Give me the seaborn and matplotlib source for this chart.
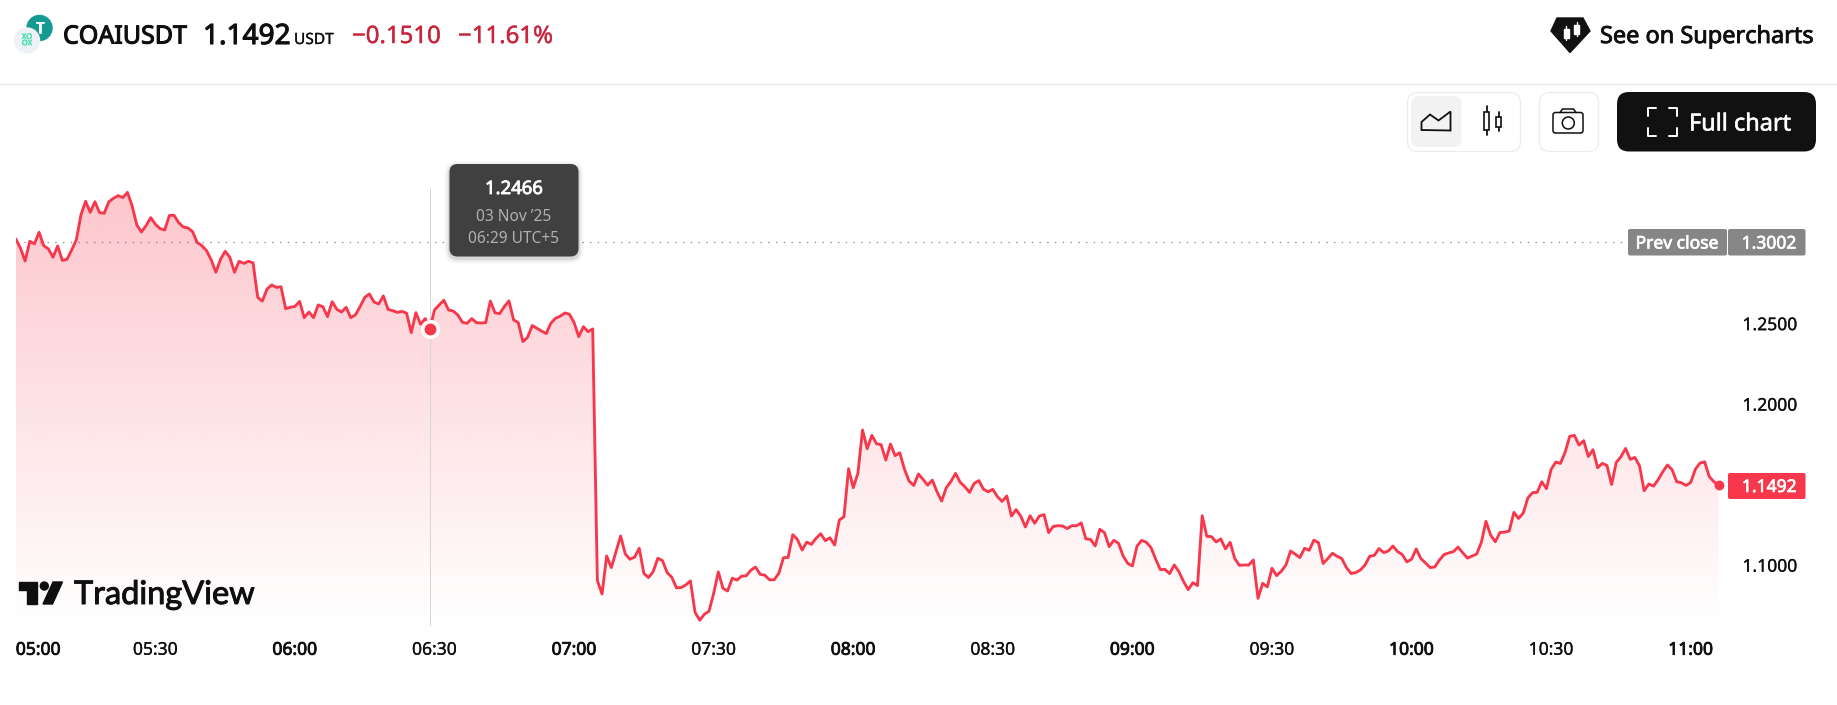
"""COAIUSDT intraday area chart, TradingView widget look."""

from __future__ import annotations

import numpy as np
import matplotlib

matplotlib.use("Agg")

import matplotlib.patheffects as pe
import matplotlib.pyplot as plt
import seaborn as sns
from matplotlib.colors import to_rgb
from matplotlib.patches import Circle, FancyBboxPatch, Polygon, Rectangle

PRICES = [
    1.3023, 1.2965, 1.2886, 1.3008, 1.2992, 1.3064, 1.2981, 1.2961, 1.2909, 1.2979,
    1.2890, 1.2896, 1.2954, 1.3016, 1.3172, 1.3257, 1.3188, 1.3254, 1.3186, 1.3182,
    1.3254, 1.3275, 1.3292, 1.3279, 1.3312, 1.3228, 1.3110, 1.3066, 1.3105, 1.3155,
    1.3114, 1.3087, 1.3078, 1.3168, 1.3170, 1.3124, 1.3097, 1.3091, 1.3068, 1.3000,
    1.2981, 1.2950, 1.2892, 1.2816, 1.2896, 1.2946, 1.2909, 1.2816, 1.2884, 1.2871,
    1.2884, 1.2874, 1.2660, 1.2637, 1.2712, 1.2737, 1.2722, 1.2726, 1.2590, 1.2598,
    1.2604, 1.2635, 1.2534, 1.2569, 1.2534, 1.2613, 1.2602, 1.2540, 1.2633, 1.2586,
    1.2569, 1.2598, 1.2534, 1.2551, 1.2602, 1.2660, 1.2681, 1.2631, 1.2619, 1.2669,
    1.2586, 1.2577, 1.2567, 1.2573, 1.2561, 1.2441, 1.2565, 1.2493, 1.2528, 1.2466,
    1.2582, 1.2613, 1.2642, 1.2582, 1.2575, 1.2551, 1.2505, 1.2499, 1.2528, 1.2503,
    1.2501, 1.2503, 1.2637, 1.2564, 1.2559, 1.2603, 1.2638, 1.2520, 1.2503, 1.2385,
    1.2412, 1.2485, 1.2468, 1.2451, 1.2435, 1.2499, 1.2530, 1.2543, 1.2563, 1.2555,
    1.2503, 1.2416, 1.2478, 1.2447, 1.2464, 1.0901, 1.0818, 1.1054, 1.0982, 1.1081,
    1.1178, 1.1067, 1.1034, 1.1046, 1.1102, 1.0945, 1.0920, 1.0957, 1.1040, 1.1025,
    1.0951, 1.0922, 1.0856, 1.0858, 1.0874, 1.0899, 1.0704, 1.0655, 1.0692, 1.0711,
    1.0822, 1.0955, 1.0853, 1.0837, 1.0916, 1.0904, 1.0929, 1.0931, 1.0966, 1.0985,
    1.0940, 1.0935, 1.0906, 1.0906, 1.0946, 1.1043, 1.1045, 1.1186, 1.1157, 1.1091,
    1.1140, 1.1126, 1.1163, 1.1192, 1.1149, 1.1167, 1.1122, 1.1277, 1.1298, 1.1596,
    1.1478, 1.1567, 1.1836, 1.1720, 1.1803, 1.1751, 1.1745, 1.1650, 1.1749, 1.1677,
    1.1695, 1.1594, 1.1519, 1.1492, 1.1563, 1.1530, 1.1494, 1.1525, 1.1453, 1.1395,
    1.1478, 1.1517, 1.1567, 1.1511, 1.1484, 1.1449, 1.1505, 1.1522, 1.1468, 1.1453,
    1.1468, 1.1422, 1.1393, 1.1427, 1.1302, 1.1342, 1.1302, 1.1234, 1.1304, 1.1257,
    1.1302, 1.1311, 1.1199, 1.1238, 1.1242, 1.1240, 1.1224, 1.1242, 1.1242, 1.1259,
    1.1160, 1.1157, 1.1116, 1.1220, 1.1199, 1.1112, 1.1151, 1.1133, 1.1054, 1.1008,
    1.0992, 1.1116, 1.1151, 1.1139, 1.1106, 1.1035, 1.0969, 1.0971, 1.0944, 1.0998,
    1.0957, 1.0895, 1.0845, 1.0888, 1.0870, 1.1304, 1.1176, 1.1174, 1.1141, 1.1160,
    1.1098, 1.1139, 1.1038, 1.0996, 1.0998, 1.0998, 1.1029, 1.0791, 1.0884, 1.0862,
    1.0978, 1.0932, 1.0959, 1.0998, 1.1085, 1.1065, 1.1044, 1.1102, 1.1089, 1.1152,
    1.1137, 1.1007, 1.1038, 1.1071, 1.1052, 1.1038, 1.0982, 1.0945, 1.0951, 1.0967,
    1.0998, 1.1052, 1.1058, 1.1100, 1.1075, 1.1085, 1.1116, 1.1081, 1.1063, 1.1017,
    1.1034, 1.1098, 1.1038, 1.1011, 1.0982, 1.0986, 1.1029, 1.1063, 1.1073, 1.1081,
    1.1109, 1.1074, 1.1041, 1.1053, 1.1066, 1.1138, 1.1269, 1.1184, 1.1142, 1.1200,
    1.1202, 1.1209, 1.1325, 1.1287, 1.1320, 1.1414, 1.1447, 1.1449, 1.1515, 1.1472,
    1.1592, 1.1637, 1.1629, 1.1697, 1.1797, 1.1803, 1.1743, 1.1770, 1.1672, 1.1714,
    1.1602, 1.1629, 1.1616, 1.1498, 1.1635, 1.1670, 1.1722, 1.1654, 1.1666, 1.1614,
    1.1459, 1.1501, 1.1488, 1.1527, 1.1577, 1.1619, 1.1590, 1.1515, 1.1509, 1.1492,
    1.1511, 1.1592, 1.1631, 1.1639, 1.1546, 1.1515, 1.1492,
]

TIME_TICKS = [0, 30, 60, 90, 120, 150, 180, 210, 240, 270, 300, 330, 360]
TIME_LABELS = [
    "05:00", "05:30", "06:00", "06:30", "07:00", "07:30", "08:00",
    "08:30", "09:00", "09:30", "10:00", "10:30", "11:00",
]
PRICE_TICKS = [1.10, 1.20, 1.25]
PRICE_LABELS = ["1.1000", "1.2000", "1.2500"]

PREV_CLOSE = 1.3002
HOVER_MINUTE = 89
HOVER_PRICE = 1.2466
LAST_PRICE = 1.1492

WIDTH, HEIGHT = 1837, 705
RED = "#F7374B"
INK = "#0F0F0F"
FONT = "Noto Sans"


def px(size: float) -> float:
    return size * 0.72


def heavy(artist, color, width=0.6) -> None:
    # the installed regular face needs a thin stroke to reach the medium weight
    artist.set_path_effects([pe.withStroke(linewidth=width, foreground=color)])


def label(ui, x, y, text, color=INK, size=16.0, stroke=0.0, **kwargs):
    kwargs.setdefault("va", "center")
    kwargs.setdefault("zorder", 7)
    artist = ui.text(x, y, text, color=color, fontsize=px(size), **kwargs)
    if stroke:
        heavy(artist, color, stroke)
    return artist


def box(ui, x0, y0, x1, y1, radius, face, edge="none", lw=0.0, zorder=5):
    patch = FancyBboxPatch(
        (x0 + radius, y0 + radius),
        x1 - x0 - 2 * radius,
        y1 - y0 - 2 * radius,
        boxstyle=f"round,pad={radius},rounding_size={radius}",
        facecolor=face,
        edgecolor=edge,
        linewidth=lw,
        zorder=zorder,
    )
    ui.add_patch(patch)
    return patch


def draw_chart(ax) -> None:
    minutes = np.arange(len(PRICES))
    bottom, top = 1.0621, 1.3513

    ax.axhline(PREV_CLOSE, color="#8a8a8a", linewidth=0.9, linestyle=(0, (1.1, 5.1)), zorder=2)

    # gradient under the line, clipped to the area
    rgba = np.ones((256, 1, 4))
    rgba[:, :, :3] = to_rgb(RED)
    rgba[:, 0, 3] = np.linspace(0.29, 0.0, 256)
    area = ax.fill_between(minutes, PRICES, bottom, color="none", linewidth=0)
    image = ax.imshow(
        rgba,
        extent=[0, len(PRICES) - 1, bottom, 1.3389],
        aspect="auto",
        interpolation="bilinear",
        zorder=1,
    )
    image.set_clip_path(area.get_paths()[0], transform=ax.transData)

    ax.vlines(HOVER_MINUTE, bottom, 1.3339, color="#d6d6d6", linewidth=0.75, zorder=2)
    sns.lineplot(x=minutes, y=PRICES, ax=ax, color=RED, linewidth=2.05, zorder=3, legend=False)
    ax.lines[-1].set_solid_joinstyle("round")
    ax.scatter(
        [HOVER_MINUTE], [HOVER_PRICE], s=125, color=RED, edgecolor="white",
        linewidth=2.6, zorder=4, clip_on=False,
    )
    ax.scatter([minutes[-1]], [LAST_PRICE], s=50, color=RED, linewidth=0, zorder=4, clip_on=False)

    ax.set_xlim(0, 366.3)
    ax.set_ylim(bottom, top)
    ax.set_xlabel("")
    ax.set_ylabel("")
    sns.despine(ax=ax, left=True, bottom=True, right=True, top=True)
    ax.patch.set_alpha(0)

    ax.set_xticks(TIME_TICKS, TIME_LABELS)
    ax.tick_params(axis="x", length=0, pad=10.8, labelsize=px(17.5), labelcolor=INK)
    for tick, tick_label in zip(TIME_TICKS, ax.get_xticklabels()):
        heavy(tick_label, INK, 0.6 if tick % 60 == 0 else 0.2)
    ax.get_xticklabels()[0].set_ha("left")

    ax.yaxis.tick_right()
    ax.set_yticks(PRICE_TICKS, PRICE_LABELS)
    ax.tick_params(axis="y", length=0, pad=px(22.5), labelsize=px(17.5), labelcolor=INK)
    for tick_label in ax.get_yticklabels():
        heavy(tick_label, INK, 0.2)


def draw_header(ui) -> None:
    ui.plot([0, WIDTH], [83.5, 83.5], color="#e9e9e9", linewidth=1.0, zorder=5)

    ui.add_patch(Circle((39.5, 28), 12.5, color="#159A92", zorder=5))
    label(ui, 40, 29, "T", "white", 15, 0.5, ha="center", zorder=6)
    ui.add_patch(Circle((27, 40.5), 12.5, color="#EEF1F6", zorder=7))
    label(ui, 27, 40.5, "XO\nOX", "#3FE0A8", 7.5, 0.3, ha="center", linespacing=0.85, zorder=8)

    label(ui, 63, 37, "COAIUSDT", INK, 25, 0.8)
    label(ui, 203, 37, "1.1492", INK, 28, 0.8)
    label(ui, 294, 40, "USDT", INK, 15.5, 0.2)
    label(ui, 352, 37, "\u22120.1510", "#C9263D", 24, 0.3)
    label(ui, 458, 37, "\u221211.61%", "#C9263D", 24, 0.3)

    ui.add_patch(Polygon([(1557, 18), (1583, 18), (1590, 31), (1570, 52.5), (1551, 31)], color="#111111", zorder=5))
    for x, y0, y1 in [(1566, 26, 40), (1576.5, 22, 36)]:
        ui.add_patch(Rectangle((x - 2.5, y0 + 2.5), 5, y1 - y0 - 5, color="white", zorder=6))
        ui.plot([x, x], [y0, y1], color="white", linewidth=1.0, zorder=6)
    label(ui, 1600, 37, "See on Supercharts", INK, 23.5, 0.6)


def draw_buttons(ui) -> None:
    box(ui, 1407.5, 92.5, 1520.5, 151.5, 10, "white", "#ececec", 0.9)
    box(ui, 1411, 96, 1461.5, 147, 8, "#f2f2f2", zorder=6)
    area_icon = [(1421.5, 130), (1421.5, 122), (1430, 114.5), (1438.5, 120.5), (1450.5, 111.5), (1450.5, 130.5)]
    ui.add_patch(Polygon(area_icon, closed=True, fill=False, edgecolor=INK, linewidth=1.3, zorder=7))
    ui.plot([1486.5, 1486.5], [106, 135], color=INK, linewidth=1.3, zorder=7)
    ui.add_patch(Rectangle((1484, 111.5), 5, 18.5, facecolor="white", edgecolor=INK, linewidth=1.2, zorder=8))
    ui.plot([1498.5, 1498.5], [112, 131], color=INK, linewidth=1.3, zorder=7)
    ui.add_patch(Rectangle((1496, 116.5), 5, 10.5, facecolor="white", edgecolor=INK, linewidth=1.2, zorder=8))

    box(ui, 1539.5, 92.5, 1598.5, 151.5, 10, "white", "#ececec", 0.9)
    box(ui, 1553, 112.5, 1583, 133, 2.5, "white", INK, 1.1, zorder=7)
    ui.plot([1560, 1562.5, 1573.5, 1576], [112.5, 109, 109, 112.5], color=INK, linewidth=1.1, zorder=7)
    ui.add_patch(Circle((1568.3, 123), 6, fill=False, edgecolor=INK, linewidth=1.1, zorder=8))

    box(ui, 1617, 92, 1816, 151.5, 12, "#111111")
    x0, x1, y0, y1 = 1647.5, 1676.5, 107.5, 136
    for xs, ys in [
        ([x0, x0, x0 + 8], [y0 + 8, y0, y0]),
        ([x1 - 8, x1, x1], [y0, y0, y0 + 8]),
        ([x0, x0, x0 + 8], [y1 - 8, y1, y1]),
        ([x1 - 8, x1, x1], [y1, y1, y1 - 8]),
    ]:
        ui.plot(xs, ys, color="white", linewidth=1.4, zorder=6, solid_capstyle="round")
    label(ui, 1689, 124.5, "Full chart", "white", 23.5, 0.4)


def draw_labels(ui) -> None:
    box(ui, 1628, 229, 1727, 255.5, 2, "#868686")
    box(ui, 1728, 229, 1805.5, 255.5, 2, "#868686")
    label(ui, 1677, 243.5, "Prev close", "white", 17.5, 0.5, ha="center")
    label(ui, 1796.5, 243.5, "1.3002", "white", 17.5, 0.5, ha="right")

    box(ui, 1728, 473, 1805.5, 499, 2, RED)
    label(ui, 1796.5, 487, "1.1492", "white", 17.5, 0.5, ha="right")

    # hover tooltip with a soft shadow
    for grow, alpha in [(5, 0.03), (3, 0.05), (1.5, 0.08)]:
        box(ui, 449.5 - grow, 164 - grow + 2, 578.5 + grow, 256.5 + grow + 2, 8 + grow, (0, 0, 0, alpha), zorder=5)
    box(ui, 449.5, 164, 578.5, 256.5, 8, "#404040", zorder=6)
    label(ui, 514, 189, "1.2466", "white", 18.5, 0.6, ha="center")
    label(ui, 513.5, 217, "03 Nov \u201925", "#b0b0b0", 15.5, ha="center")
    label(ui, 513.5, 239, "06:29 UTC+5", "#b0b0b0", 15.5, ha="center")


def draw_logo(ui) -> None:
    ui.add_patch(Polygon(
        [(18.5, 582), (36.5, 582), (36.5, 604), (27, 604), (27, 590), (18.5, 590)],
        color=INK, zorder=6,
    ))
    ui.add_patch(Circle((44.3, 586), 4, color=INK, zorder=6))
    ui.add_patch(Polygon([(53, 582), (62.5, 582), (52.5, 604), (43, 604)], color=INK, zorder=6))
    label(ui, 74, 595, "TradingView", INK, 32.5, 0.7, family="Lato")


def main() -> None:
    sns.set_theme(style="white")
    plt.rcParams["font.family"] = [FONT, "DejaVu Sans"]

    fig = plt.figure(figsize=(WIDTH / 100, HEIGHT / 100), dpi=100, facecolor="white")
    left, right, top, bottom = 15.8, 1720.0, 160.0, 625.7
    ax = fig.add_axes([
        left / WIDTH,
        1 - bottom / HEIGHT,
        (right - left) / WIDTH,
        (bottom - top) / HEIGHT,
    ])
    draw_chart(ax)

    # the widget chrome is laid out in pixels on a second transparent axes
    ui = fig.add_axes([0, 0, 1, 1], zorder=5)
    ui.set_xlim(0, WIDTH)
    ui.set_ylim(HEIGHT, 0)
    ui.axis("off")
    draw_header(ui)
    draw_buttons(ui)
    draw_labels(ui)
    draw_logo(ui)

    fig.savefig("out.png", dpi=100)
    plt.close(fig)


if __name__ == "__main__":
    main()
